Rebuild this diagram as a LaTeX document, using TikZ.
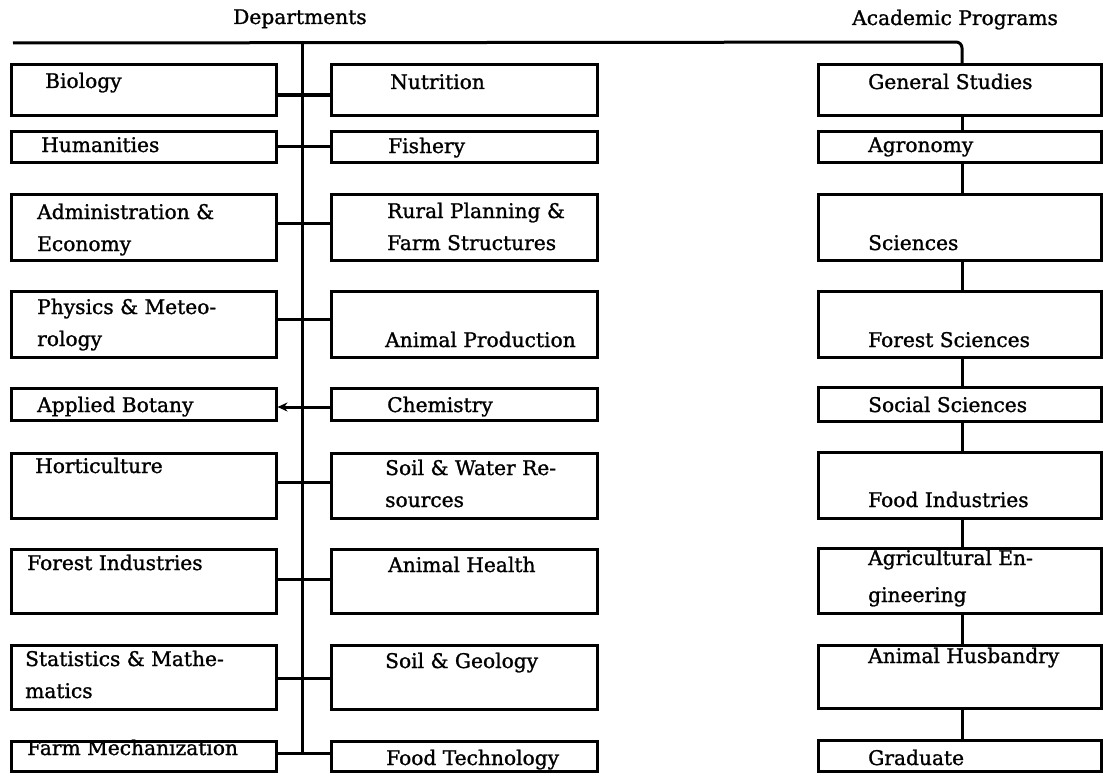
\documentclass[tikz,border=0pt]{standalone}
\usepackage{fontspec}
\setmainfont{DejaVu Serif}
\newfontfamily\orgfam{DejaVu Serif}[FakeBold=1.2]
\usetikzlibrary{arrows.meta}
\newcommand\orgfont{\orgfam\fontsize{20.2bp}{32bp}\selectfont}
\tikzset{
  box/.style={draw, line width=3bp, inner sep=0pt},
  lbl/.style={anchor=base west, inner sep=0pt, font=\orgfont, align=left},
  conn/.style={line width=3bp},
}
\begin{document}
\begin{tikzpicture}[x=1bp, y=-1bp]
\useasboundingbox (0,0) rectangle (1105,774);
% ---------- headers
\node[lbl] (hdep) at (233,24) {Departments};
\node[lbl] (hacad) at (852,25) {Academic Programs};
% ---------- left column boxes
\node[box, minimum width=264bp, minimum height=50bp] (bio) at (144,90) {};
\node[box, minimum width=264bp, minimum height=31bp] (hum) at (144,146.5) {};
\node[box, minimum width=264bp, minimum height=66bp] (adm) at (144,227) {};
\node[box, minimum width=264bp, minimum height=66bp] (phy) at (144,324) {};
\node[box, minimum width=264bp, minimum height=32bp] (bot) at (144,404) {};
\node[box, minimum width=264bp, minimum height=65bp] (hor) at (144,485.5) {};
\node[box, minimum width=264bp, minimum height=64bp] (fin) at (144,581) {};
\node[box, minimum width=264bp, minimum height=64bp] (sta) at (144,677) {};
\node[box, minimum width=264bp, minimum height=30bp] (fmc) at (144,756) {};
% ---------- middle column boxes
\node[box, minimum width=266bp, minimum height=50bp] (nut) at (464,90) {};
\node[box, minimum width=266bp, minimum height=31bp] (fis) at (464,146.5) {};
\node[box, minimum width=266bp, minimum height=66bp] (rur) at (464,227) {};
\node[box, minimum width=266bp, minimum height=66bp] (anp) at (464,324) {};
\node[box, minimum width=266bp, minimum height=32bp] (che) at (464,404) {};
\node[box, minimum width=266bp, minimum height=65bp] (swr) at (464,485.5) {};
\node[box, minimum width=266bp, minimum height=64bp] (anh) at (464,581) {};
\node[box, minimum width=266bp, minimum height=64bp] (sog) at (464,677) {};
\node[box, minimum width=266bp, minimum height=30bp] (fot) at (464,756) {};
% ---------- right column boxes
\node[box, minimum width=283bp, minimum height=50bp] (gen) at (959.5,90) {};
\node[box, minimum width=283bp, minimum height=31bp] (agr) at (959.5,146.5) {};
\node[box, minimum width=283bp, minimum height=66bp] (sci) at (959.5,227) {};
\node[box, minimum width=283bp, minimum height=66bp] (fos) at (959.5,324) {};
\node[box, minimum width=283bp, minimum height=34bp] (soc) at (959.5,404) {};
\node[box, minimum width=283bp, minimum height=66bp] (foi) at (959.5,485) {};
\node[box, minimum width=283bp, minimum height=65bp] (age) at (959.5,580.5) {};
\node[box, minimum width=283bp, minimum height=63bp] (ahu) at (959.5,676.5) {};
\node[box, minimum width=283bp, minimum height=31bp] (gra) at (959.5,756) {};
% ---------- labels, left (multi-line labels placed by their last baseline)
\node[lbl] (tbio) at (45,88) {Biology};
\node[lbl] (thum) at (41,152) {Humanities};
\node[lbl] (tadm) at (37,251) {Administration \&\\Economy};
\node[lbl] (tphy) at (37,346) {Physics \& Meteo-\\rology};
\node[lbl] (tbot) at (37,412) {Applied Botany};
\node[lbl] (thor) at (35,473) {Horticulture};
\node[lbl] (tfin) at (27,570) {Forest Industries};
\node[lbl] (tsta) at (25,698) {Statistics \& Mathe-\\matics};
\node[lbl] (tfmc) at (27,755) {Farm Mechanization};
% ---------- labels, middle
\node[lbl] (tnut) at (390,89) {Nutrition};
\node[lbl] (tfis) at (388,153) {Fishery};
\node[lbl] (trur) at (387,250) {Rural Planning \&\\Farm Structures};
\node[lbl] (tanp) at (385,347) {Animal Production};
\node[lbl] (tche) at (387,412) {Chemistry};
\node[lbl] (tswr) at (385,507) {Soil \& Water Re-\\sources};
\node[lbl] (tanh) at (388,572) {Animal Health};
\node[lbl] (tsog) at (385,668) {Soil \& Geology};
\node[lbl] (tfot) at (386,765) {Food Technology};
% ---------- labels, right
\node[lbl] (tgen) at (868,89) {General Studies};
\node[lbl] (tagr) at (868,152) {Agronomy};
\node[lbl] (tsci) at (868,250) {Sciences};
\node[lbl] (tfos) at (868,347) {Forest Sciences};
\node[lbl] (tsoc) at (868,412) {Social Sciences};
\node[lbl] (tfoi) at (868,507) {Food Industries};
\node[lbl] (tage) at (868,602) {Agricultural En-\\[5bp]gineering};
\node[lbl] (tahu) at (868,663) {Animal Husbandry};
\node[lbl] (tgra) at (868,765) {Graduate};
% ---------- trunk and top line
\coordinate (tl) at (13,43);
\coordinate (ttop) at (302,42.5);
\coordinate (tbot) at (302,753);
\coordinate (tr) at (962,42);
\draw[conn] (ttop) -- (tbot);
\draw[conn, rounded corners=6bp] (tl) -- (tr) -- (gen.north -| tr);
% ---------- department connectors
\draw[conn] (bio.east |- 0,95) -- (nut.west |- 0,95);
\draw[conn] (hum.east |- 0,146) -- (fis.west |- 0,146);
\draw[conn] (adm.east |- 0,223) -- (rur.west |- 0,223);
\draw[conn] (phy.east |- 0,319) -- (anp.west |- 0,319);
\draw[conn, -{Stealth[length=10bp,width=9bp]}] (che.west |- 0,407) -- (bot.east |- 0,407);
\draw[conn] (hor.east |- 0,482) -- (swr.west |- 0,482);
\draw[conn] (fin.east |- 0,579) -- (anh.west |- 0,579);
\draw[conn] (sta.east |- 0,678) -- (sog.west |- 0,678);
\draw[conn] (fmc.east |- 0,753) -- (fot.west |- 0,753);
% ---------- program connectors
\draw[conn] (gen.south -| tr) -- (agr.north -| tr);
\draw[conn] (agr.south -| tr) -- (sci.north -| tr);
\draw[conn] (sci.south -| tr) -- (fos.north -| tr);
\draw[conn] (fos.south -| tr) -- (soc.north -| tr);
\draw[conn] (soc.south -| tr) -- (foi.north -| tr);
\draw[conn] (foi.south -| tr) -- (age.north -| tr);
\draw[conn] (age.south -| tr) -- (ahu.north -| tr);
\draw[conn] (ahu.south -| tr) -- (gra.north -| tr);
\end{tikzpicture}
\end{document}
